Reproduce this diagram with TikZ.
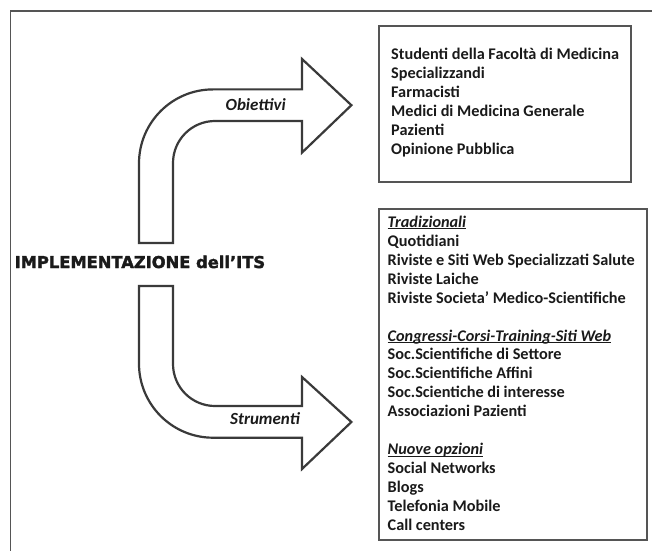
\documentclass[tikz,border=0pt]{standalone}
\usepackage{fontspec}
\setmainfont{Carlito}
\newfontfamily\titlefont[BoldFeatures={FakeBold=2}]{DejaVu Sans}
\newcommand\hdline[1]{\setbox0\hbox{\itshape #1}\rlap{\rule[-2pt]{\wd0}{0.9pt}}\box0}
\definecolor{arrowline}{HTML}{3A3A3A}
\definecolor{boxline}{HTML}{555555}
\definecolor{ink}{HTML}{1A1A1A}
\tikzset{
  bigarrow/.style={draw=arrowline, line width=2.2pt, fill=white, line join=miter},
  listbox/.style={draw=boxline, line width=1.5pt},
  frameline/.style={draw=boxline, line width=1.5pt},
  item/.style={anchor=base west, inner sep=0pt, text=ink, font=\fontsize{16.25}{19}\selectfont\bfseries},
  arrowlabel/.style={inner sep=0pt, text=ink, font=\fontsize{17}{19}\selectfont\bfseries\itshape},
  titletext/.style={anchor=base west, inner sep=0pt, text=ink, font=\fontsize{16.3}{19}\selectfont\titlefont\bfseries}
}
\begin{document}
\begin{tikzpicture}[x=1pt,y=1pt]
\useasboundingbox (0,0) rectangle (652,550);
\fill[white] (0,0) rectangle (652,550);
% outer frame (partly visible)
\coordinate (fbl) at (10.4,-5);
\coordinate (ftl) at (10.4,538.8);
\coordinate (ftr) at (660,538.8);
\draw[frameline] (fbl) -- (ftl) -- (ftr);
% upper arrow
\draw[bigarrow] (139,307) -- (139,386.6) arc (180:90:74) -- (302,460.6) -- (302,491)
  -- (351.4,444.8) -- (302,397.4) -- (302,429) -- (215,429) arc (90:180:42) -- (173,307) -- cycle;
% lower arrow
\draw[bigarrow] (139,264) -- (139,186.3) arc (180:270:74) -- (302,112.3) -- (302,81)
  -- (351.4,128) -- (302,173) -- (302,144) -- (215,144) arc (270:180:42) -- (173,264) -- cycle;
\node[arrowlabel] (obj) at (255.7,445) {Obiettivi};
\node[arrowlabel] (str) at (265,131) {Strumenti};
\node[titletext] (title) at (14.5,282) {IMPLEMENTAZIONE dell’ITS};
% boxes
\draw[listbox] (379,368) rectangle (631,524);
\draw[listbox] (379,10) rectangle (647,341);
\foreach \k/\t in {0/Studenti della Facoltà di Medicina,1/Specializzandi,2/Farmacisti,3/Medici di Medicina Generale,4/Pazienti,5/Opinione Pubblica}
  \node[item] (u\k) at (391,490.7-19*\k) {\t};
\foreach \k/\t in {0/{\hdline{Tradizionali}},1/Quotidiani,2/Riviste e Siti Web Specializzati Salute,3/Riviste Laiche,4/Riviste Societa’ Medico-Scientifiche,
  6/{\hdline{Congressi-Corsi-Training-Siti Web}},7/Soc.Scientifiche di Settore,8/Soc.Scientifiche Affini,9/Soc.Scientiche di interesse,10/Associazioni Pazienti,
  12/{\hdline{Nuove opzioni}},13/Social Networks,14/Blogs,15/Telefonia Mobile,16/Call centers}
  \node[item] (l\k) at (387.5,322.7-18.95*\k) {\t};
\end{tikzpicture}
\end{document}
